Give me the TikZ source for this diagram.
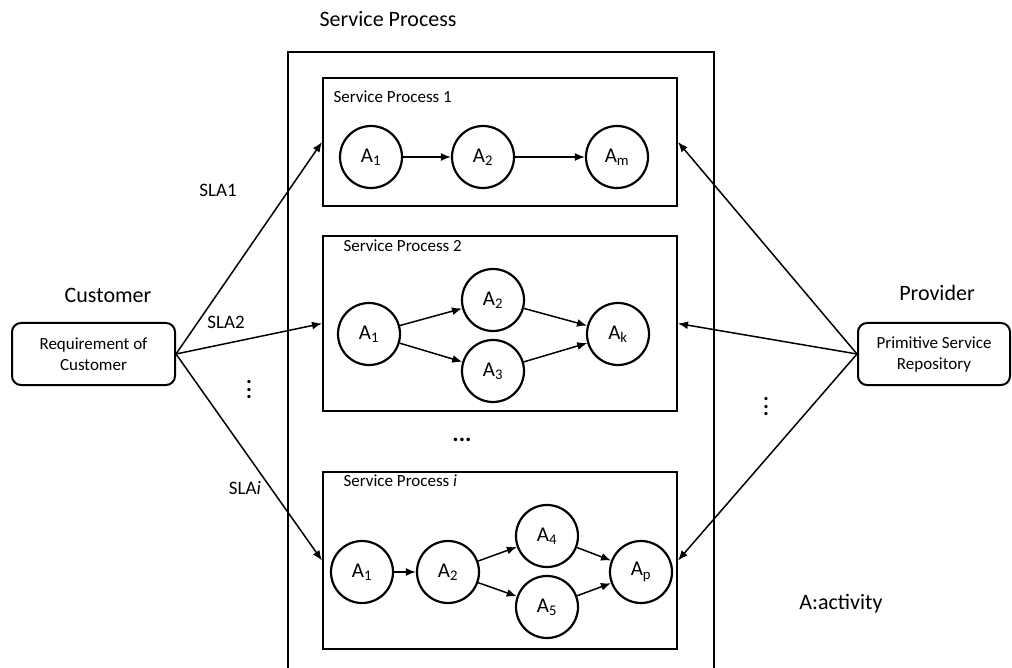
\documentclass[tikz,border=0pt]{standalone}
\usepackage{fontspec}
\setmainfont{Carlito}
\usepackage{tikz}
\usetikzlibrary{arrows.meta}

\begin{document}
\begin{tikzpicture}[x=1pt,y=-1pt,>={Latex[length=10pt,width=8pt]},
		act/.style={circle,draw,line width=2.2pt,minimum size=62pt,inner sep=0pt,font=\fontsize{21}{22}\selectfont},
		proc/.style={draw,line width=2pt,minimum width=354pt,inner sep=0pt},
		role/.style={draw,line width=2pt,rounded corners=9pt,minimum height=62pt,align=center,font=\fontsize{17}{21}\selectfont},
		link/.style={->,line width=1.5pt},
		big/.style={font=\fontsize{22}{24}\selectfont},
		small/.style={font=\fontsize{17}{20}\selectfont},
		vdots/.style={inner sep=0pt,align=center,font=\fontsize{22}{7.5}\selectfont\bfseries}]
			\useasboundingbox (0,0) rectangle (1012,668);
			\draw[line width=2pt](288,700)--(288,52)--(714,52)--(714,700);
			\draw (388,19)node[big]{Service Process};
			% service process 1
			\node[proc,minimum height=128pt] (sp1) at (500,142) {};
			\draw (330,97)node[anchor=west,small]{Service Process 1};
			\node[act] (p1a1) at (371,157) {A\textsubscript{1}};
			\node[act] (p1a2) at (483,157) {A\textsubscript{2}};
			\node[act] (p1am) at (617,157) {A\textsubscript{m}};
			\draw[link](p1a1)--(p1a2);
			\draw[link](p1a2)--(p1am);
			% service process 2
			\node[proc,minimum height=175pt] (sp2) at (500,323.5) {};
			\draw (340,246)node[anchor=west,small]{Service Process 2};
			\node[act] (p2a1) at (369,334) {A\textsubscript{1}};
			\node[act] (p2a2) at (493,300) {A\textsubscript{2}};
			\node[act] (p2a3) at (493,371) {A\textsubscript{3}};
			\node[act] (p2ak) at (618,334) {A\textsubscript{k}};
			\draw[link](p2a1)--(p2a2);
			\draw[link](p2a1)--(p2a3);
			\draw[link](p2a2)--(p2ak);
			\draw[link](p2a3)--(p2ak);
			\draw (462,440)node[font=\fontsize{24}{24}\selectfont\bfseries]{...};
			% service process i
			\node[proc,minimum height=177pt] (spi) at (500,560.5) {};
			\draw (340,481)node[anchor=west,small]{Service Process \textit{i}};
			\node[act] (pia1) at (362,572) {A\textsubscript{1}};
			\node[act] (pia2) at (448,572) {A\textsubscript{2}};
			\node[act] (pia4) at (547,536) {A\textsubscript{4}};
			\node[act] (pia5) at (547,607) {A\textsubscript{5}};
			\node[act] (piap) at (641,572) {A\textsubscript{p}};
			\draw[link](pia1)--(pia2);
			\draw[link](pia2)--(pia4);
			\draw[link](pia2)--(pia5);
			\draw[link](pia4)--(piap);
			\draw[link](pia5)--(piap);
			% customer and provider
			\draw (108,295)node[big]{Customer};
			\node[role,minimum width=163pt] (cust) at (93.5,354) {Requirement of\\Customer};
			\draw (937,293)node[big]{Provider};
			\node[role,minimum width=152pt] (prov) at (934,354) {Primitive Service\\Repository};
			\draw[link](cust.east)--(sp1.west);
			\draw[link](cust.east)--(sp2.west);
			\draw[link](cust.east)--(spi.west);
			\draw[link](prov.west)--(sp1.east);
			\draw[link](prov.west)--(sp2.east);
			\draw[link](prov.west)--(spi.east);
			\draw (218,190)node[font=\fontsize{19}{21}\selectfont]{SLA1};
			\draw (226,322)node[font=\fontsize{19}{21}\selectfont]{SLA2};
			\draw (245,488)node[font=\fontsize{19}{21}\selectfont]{SLA\textit{i}};
			\draw (249,390)node[vdots]{.\\.\\.};
			\draw (766,407)node[vdots]{.\\.\\.};
			\draw (841,604)node[big]{A:activity};
		\end{tikzpicture}
\end{document}
